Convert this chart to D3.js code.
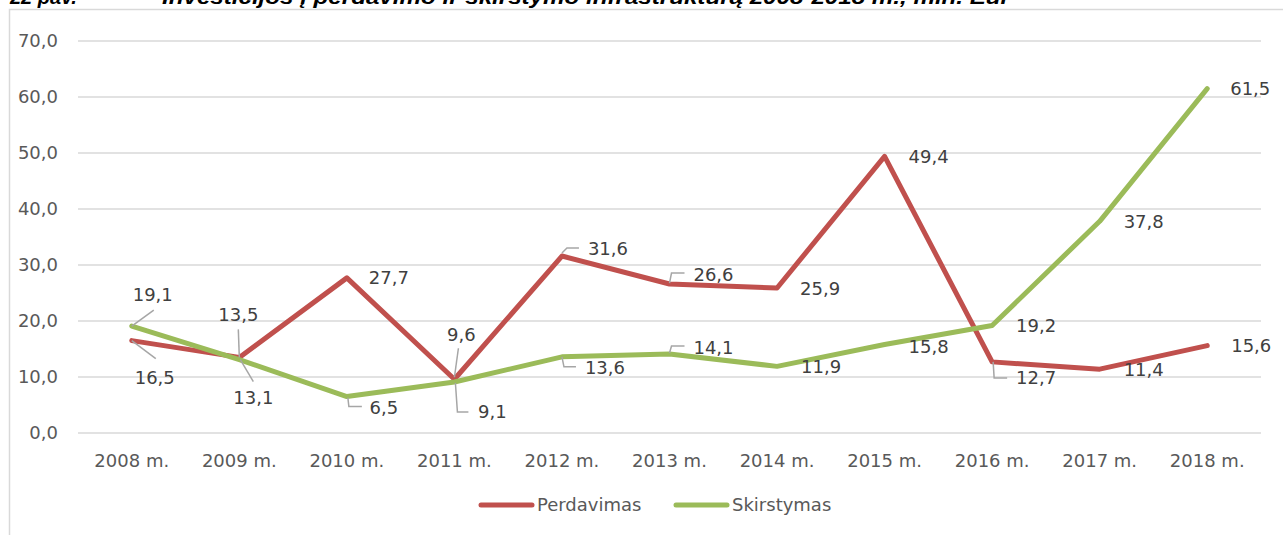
<!DOCTYPE html>
<html>
<head>
<meta charset="utf-8">
<script src="https://cdn.jsdelivr.net/npm/d3@7"></script>
<style>
  body { margin: 0; background: #fff; }
  svg { display: block; }
</style>
</head>
<body>
<svg id="chart"></svg>
<script>
// data
const years = ["2008 m.", "2009 m.", "2010 m.", "2011 m.", "2012 m.", "2013 m.",
    "2014 m.", "2015 m.", "2016 m.", "2017 m.", "2018 m."];
const perdavimas = [16.5, 13.5, 27.7, 9.6, 31.6, 26.6, 25.9, 49.4, 12.7, 11.4, 15.6];
const skirstymas = [19.1, 13.1, 6.5, 9.1, 13.6, 14.1, 11.9, 15.8, 19.2, 37.8, 61.5];
const yTicks = [0, 10, 20, 30, 40, 50, 60, 70];
const seriesNames = ["Perdavimas", "Skirstymas"];

// label placement (offset of text centre from point, optional leader line)
const perdavimasLabels = [
    {dx: 23, dy: 37, leader: [[0, 0], [24, 18]]},
    {dx: -1, dy: -43, leader: [[0, 0], [-1, -28]]},
    {dx: 42, dy: 0},
    {dx: 7, dy: -45, leader: [[0, -2], [4, -31]]},
    {dx: 46, dy: -7, leader: [[0, -3], [5, -8], [17, -8]]},
    {dx: 44, dy: -9, leader: [[0, -1], [2, -11], [15, -11]]},
    {dx: 43, dy: 1},
    {dx: 44, dy: 0},
    {dx: 44, dy: 16, leader: [[1, 0], [2, 16], [15, 16]]},
    {dx: 44, dy: 1},
    {dx: 44, dy: 0}
];
const skirstymasLabels = [
    {dx: 21, dy: -31, leader: [[0, 0], [22, -16]]},
    {dx: 14, dy: 38, leader: [[1, 0], [14, 22]]},
    {dx: 37, dy: 11, leader: [[1, 1], [2, 10], [15, 10]]},
    {dx: 38, dy: 30, leader: [[1, 1], [3, 30], [14, 30]]},
    {dx: 43, dy: 11, leader: [[0, 0], [2, 10], [14, 10]]},
    {dx: 44, dy: -6, leader: [[0, -1], [2, -8], [15, -8]]},
    {dx: 44, dy: 0},
    {dx: 44, dy: 2},
    {dx: 44, dy: 0},
    {dx: 44, dy: 0},
    {dx: 43, dy: 0}
];

const width = 1283, height = 535;
const margin = {top: 41, right: 22, bottom: 102, left: 78};
const font = "'DejaVu Sans', Verdana, sans-serif";
const fmt = v => d3.format(".1f")(v).replace(".", ",");

const svg = d3.select("#chart")
    .attr("width", width)
    .attr("height", height);

// outer frame of the chart object
svg.append("rect")
    .attr("x", 9.5).attr("y", 9.5)
    .attr("width", 1400).attr("height", 700)
    .attr("fill", "none")
    .attr("stroke", "#d9d9d9")
    .attr("stroke-width", 1.5);

// cut-off figure caption above the frame
svg.append("text")
    .attr("x", 10).attr("y", 4)
    .attr("font-family", "'Liberation Sans', Arial, sans-serif")
    .attr("font-size", 20).attr("font-weight", "bold").attr("font-style", "italic")
    .attr("fill", "#000")
    .text("22 pav.");
svg.append("text")
    .attr("x", 162).attr("y", 4)
    .attr("font-family", "'Liberation Sans', Arial, sans-serif")
    .attr("font-size", 20).attr("font-weight", "bold").attr("font-style", "italic")
    .attr("fill", "#000")
    .attr("textLength", 848).attr("lengthAdjust", "spacingAndGlyphs")
    .text("Investicijos į perdavimo ir skirstymo infrastruktūrą 2008-2018 m., mln. Eur");

const x = d3.scaleBand()
    .domain(years)
    .range([margin.left, width - margin.right]);

const y = d3.scaleLinear()
    .domain([0, 70])
    .range([height - margin.bottom, margin.top]);

const px = i => x(years[i]) + x.bandwidth() / 2;

// gridlines
svg.append("g")
    .selectAll("line")
    .data(yTicks)
    .join("line")
    .attr("x1", margin.left).attr("x2", width - margin.right)
    .attr("y1", d => y(d)).attr("y2", d => y(d))
    .attr("stroke", "#d9d9d9")
    .attr("stroke-width", 1.5);

// y axis labels
svg.append("g")
    .selectAll("text")
    .data(yTicks)
    .join("text")
    .attr("x", 58)
    .attr("y", d => y(d))
    .attr("dy", "0.35em")
    .attr("text-anchor", "end")
    .attr("font-family", font).attr("font-size", 18)
    .attr("fill", "#595959")
    .text(d => fmt(d));

// x axis labels
svg.append("g")
    .selectAll("text")
    .data(years)
    .join("text")
    .attr("x", d => x(d) + x.bandwidth() / 2)
    .attr("y", 461)
    .attr("dy", "0.35em")
    .attr("text-anchor", "middle")
    .attr("font-family", font).attr("font-size", 18)
    .attr("fill", "#595959")
    .text(d => d);

const series = [
    {name: seriesNames[0], values: perdavimas, color: "#c0504d", labels: perdavimasLabels},
    {name: seriesNames[1], values: skirstymas, color: "#9bbb59", labels: skirstymasLabels}
];

const line = d3.line()
    .x((d, i) => px(i))
    .y(d => y(d));

series.forEach(s => {
    svg.append("path")
        .datum(s.values)
        .attr("d", line)
        .attr("fill", "none")
        .attr("stroke", s.color)
        .attr("stroke-width", 5)
        .attr("stroke-linejoin", "round")
        .attr("stroke-linecap", "round");
});

// leader lines and data labels
series.forEach(s => {
    const g = svg.append("g");
    s.values.forEach((v, i) => {
        const lab = s.labels[i];
        const cx = px(i), cy = y(v);
        if (lab.leader) {
            g.append("polyline")
                .attr("points", lab.leader.map(p => [cx + p[0], cy + p[1]].join(",")).join(" "))
                .attr("fill", "none")
                .attr("stroke", "#a6a6a6")
                .attr("stroke-width", 1.5);
        }
        g.append("text")
            .attr("x", cx + lab.dx)
            .attr("y", cy + lab.dy)
            .attr("dy", "0.35em")
            .attr("text-anchor", "middle")
            .attr("font-family", font).attr("font-size", 18)
            .attr("fill", "#404040")
            .text(fmt(v));
    });
});

// legend
const legendItems = [
    {name: series[0].name, color: series[0].color, x: 479},
    {name: series[1].name, color: series[1].color, x: 674}
];
const legend = svg.append("g");
legendItems.forEach(d => {
    legend.append("line")
        .attr("x1", d.x + 2).attr("x2", d.x + 53)
        .attr("y1", 505).attr("y2", 505)
        .attr("stroke", d.color)
        .attr("stroke-width", 5)
        .attr("stroke-linecap", "round");
    legend.append("text")
        .attr("x", d.x + 58)
        .attr("y", 505)
        .attr("dy", "0.35em")
        .attr("font-family", font).attr("font-size", 18)
        .attr("fill", "#595959")
        .text(d.name);
});
</script>
</body>
</html>
